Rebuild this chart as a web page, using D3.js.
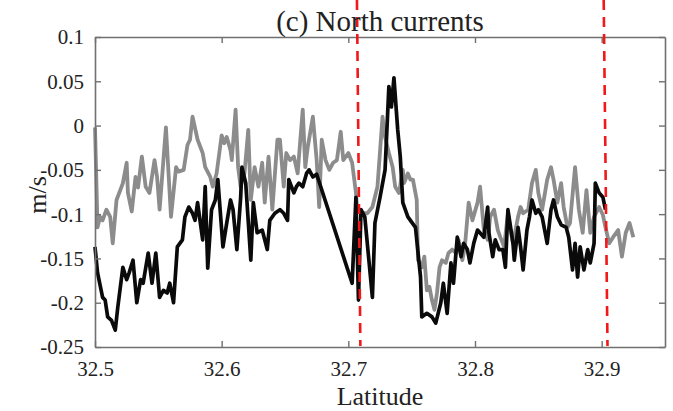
<!DOCTYPE html>
<html>
<head>
<meta charset="utf-8">
<script src="https://cdn.jsdelivr.net/npm/d3@7"></script>
<style>
  html, body { margin: 0; padding: 0; background: #fff; }
  svg { display: block; }
  text { font-family: "Liberation Serif", "DejaVu Serif", serif; fill: #222; }
</style>
</head>
<body>
<svg id="chart" width="673" height="411"></svg>
<script>
// ---- data ----
const titleText = "(c) North currents";
const xLabel = "Latitude";
const yLabel = "m/s";
const xDomain = [32.5, 32.95];
const yDomain = [-0.25, 0.1];
const xTicks = [32.5, 32.6, 32.7, 32.8, 32.9];
const yTicks = [-0.25, -0.2, -0.15, -0.1, -0.05, 0, 0.05, 0.1];

const blackLat = [32.500,32.502,32.506,32.508,32.510,32.513,32.516,32.518,32.522,32.525,32.527,32.530,32.533,32.536,32.538,32.542,32.545,32.548,32.551,32.554,32.557,32.559,32.562,32.565,32.569,32.571,32.574,32.577,32.579,32.581,32.585,32.587,32.589,32.592,32.595,32.597,32.601,32.604,32.607,32.609,32.612,32.615,32.616,32.619,32.623,32.625,32.628,32.632,32.636,32.638,32.642,32.646,32.649,32.652,32.653,32.657,32.659,32.661,32.664,32.667,32.669,32.672,32.675,32.703,32.706,32.708,32.710,32.713,32.719,32.721,32.725,32.729,32.732,32.734,32.736,32.739,32.741,32.743,32.747,32.753,32.757,32.758,32.762,32.766,32.769,32.773,32.775,32.778,32.781,32.783,32.786,32.789,32.791,32.794,32.796,32.799,32.802,32.807,32.810,32.811,32.814,32.816,32.819,32.822,32.824,32.826,32.830,32.831,32.834,32.836,32.838,32.841,32.843,32.845,32.848,32.850,32.853,32.857,32.860,32.862,32.865,32.868,32.872,32.874,32.877,32.879,32.881,32.883,32.886,32.889,32.891,32.894,32.895,32.898,32.901,32.903];
const blackVal = [-0.137,-0.166,-0.194,-0.197,-0.216,-0.220,-0.231,-0.205,-0.160,-0.174,-0.166,-0.152,-0.200,-0.174,-0.178,-0.144,-0.178,-0.144,-0.194,-0.186,-0.189,-0.178,-0.200,-0.137,-0.129,-0.103,-0.092,-0.099,-0.107,-0.087,-0.129,-0.069,-0.161,-0.095,-0.084,-0.061,-0.137,-0.110,-0.084,-0.095,-0.140,-0.081,-0.047,-0.065,-0.152,-0.087,-0.121,-0.118,-0.140,-0.107,-0.099,-0.095,-0.099,-0.107,-0.061,-0.076,-0.069,-0.065,-0.069,-0.054,-0.050,-0.058,-0.055,-0.178,-0.081,-0.197,-0.095,-0.103,-0.194,-0.110,-0.081,-0.050,0.044,0.021,0.054,-0.005,-0.035,-0.087,-0.103,-0.115,-0.171,-0.216,-0.212,-0.216,-0.223,-0.200,-0.178,-0.212,-0.155,-0.178,-0.126,-0.148,-0.133,-0.140,-0.155,-0.133,-0.118,-0.126,-0.092,-0.121,-0.148,-0.129,-0.140,-0.140,-0.160,-0.095,-0.133,-0.152,-0.115,-0.137,-0.163,-0.118,-0.103,-0.084,-0.099,-0.095,-0.103,-0.133,-0.095,-0.084,-0.103,-0.112,-0.115,-0.126,-0.163,-0.133,-0.171,-0.137,-0.163,-0.140,-0.155,-0.133,-0.065,-0.076,-0.081,-0.095];

const grayLat = [32.500,32.502,32.504,32.506,32.509,32.512,32.514,32.517,32.521,32.522,32.525,32.526,32.529,32.532,32.534,32.537,32.540,32.543,32.547,32.549,32.551,32.556,32.560,32.564,32.566,32.570,32.573,32.575,32.577,32.581,32.585,32.587,32.591,32.593,32.596,32.600,32.602,32.604,32.607,32.608,32.611,32.613,32.615,32.618,32.621,32.623,32.626,32.629,32.632,32.634,32.637,32.640,32.644,32.646,32.649,32.651,32.654,32.657,32.660,32.664,32.666,32.668,32.672,32.675,32.677,32.679,32.682,32.685,32.688,32.691,32.694,32.696,32.700,32.703,32.706,32.707,32.711,32.715,32.719,32.723,32.727,32.729,32.732,32.735,32.737,32.740,32.743,32.744,32.747,32.749,32.751,32.754,32.755,32.758,32.760,32.762,32.764,32.766,32.768,32.770,32.772,32.774,32.777,32.779,32.782,32.785,32.787,32.790,32.792,32.795,32.798,32.802,32.804,32.807,32.810,32.812,32.815,32.818,32.820,32.823,32.826,32.828,32.830,32.834,32.836,32.838,32.842,32.845,32.848,32.850,32.853,32.857,32.860,32.862,32.865,32.868,32.870,32.873,32.875,32.879,32.882,32.885,32.888,32.891,32.894,32.898,32.901,32.903,32.906,32.909,32.913,32.916,32.919,32.922,32.925];
const grayVal = [-0.002,-0.115,-0.103,-0.107,-0.095,-0.103,-0.133,-0.084,-0.069,-0.065,-0.042,-0.076,-0.097,-0.058,-0.070,-0.035,-0.069,-0.076,-0.039,-0.058,-0.095,-0.002,-0.103,-0.047,-0.052,-0.050,-0.022,-0.016,0.010,-0.016,-0.031,-0.047,-0.058,-0.069,-0.054,-0.011,-0.020,-0.013,-0.028,-0.039,0.018,-0.047,-0.069,-0.054,-0.005,-0.084,-0.047,-0.069,-0.042,-0.087,-0.035,-0.095,-0.016,-0.016,-0.069,-0.031,-0.039,-0.035,-0.054,0.018,-0.047,-0.024,0.010,-0.039,-0.092,-0.016,-0.039,-0.050,-0.042,-0.039,-0.007,-0.039,-0.031,-0.042,-0.076,-0.095,-0.099,-0.099,-0.092,-0.069,0.010,-0.013,-0.031,-0.047,-0.069,-0.076,-0.050,-0.065,-0.054,-0.061,-0.061,-0.084,-0.152,-0.160,-0.148,-0.186,-0.182,-0.197,-0.208,-0.189,-0.160,-0.152,-0.155,-0.144,-0.140,-0.144,-0.129,-0.152,-0.137,-0.087,-0.107,-0.087,-0.069,-0.118,-0.129,-0.103,-0.095,-0.118,-0.126,-0.137,-0.099,-0.118,-0.133,-0.103,-0.092,-0.099,-0.095,-0.065,-0.050,-0.076,-0.095,-0.061,-0.047,-0.061,-0.087,-0.065,-0.092,-0.115,-0.110,-0.047,-0.095,-0.121,-0.073,-0.121,-0.103,-0.092,-0.101,-0.115,-0.133,-0.126,-0.118,-0.148,-0.121,-0.110,-0.126];

// vertical red dashed markers (latitude at top and at bottom of the line)
const markerTop = [32.7068, 32.9016];
const markerBottom = [32.7095, 32.9046];

// ---- layout ----
const svg = d3.select("#chart");
const mLeft = 95, mRight = 665, mTop = 37, mBottom = 347;
const x = d3.scaleLinear().domain(xDomain).range([mLeft, mRight]);
const y = d3.scaleLinear().domain(yDomain).range([mBottom, mTop]);

const axisColor = "#707070";
const tickSize = 6;
const serif = '"Liberation Serif", "DejaVu Serif", serif';

// data lines
const line = d3.line().x(d => x(d[0])).y(d => y(d[1]));
const grayData = d3.zip(grayLat, grayVal);
const blackData = d3.zip(blackLat, blackVal);

svg.append("path").datum(grayData).attr("d", line)
  .attr("fill", "none").attr("stroke", "#8c8c8c").attr("stroke-width", 3.8)
  .attr("stroke-linejoin", "round");
svg.append("path").datum(blackData).attr("d", line)
  .attr("fill", "none").attr("stroke", "#0a0a0a").attr("stroke-width", 3.7)
  .attr("stroke-linejoin", "round");

// axes (box with inward ticks)
const fmtY = d => d === 0 ? "0" : String(d);
const axB = d3.axisBottom(x).tickValues(xTicks).tickSizeInner(-tickSize).tickSizeOuter(0).tickFormat(d3.format(".1f"));
const axT = d3.axisTop(x).tickValues(xTicks).tickSizeInner(-tickSize).tickSizeOuter(0).tickFormat("");
const axL = d3.axisLeft(y).tickValues(yTicks).tickSizeInner(-tickSize).tickSizeOuter(0).tickFormat(fmtY);
const axR = d3.axisRight(y).tickValues(yTicks).tickSizeInner(-tickSize).tickSizeOuter(0).tickFormat("");

function styleAxis(g) {
  g.attr("font-family", serif);
  g.select(".domain").attr("stroke", axisColor).attr("stroke-width", 1.6);
  g.selectAll(".tick line").attr("stroke", axisColor).attr("stroke-width", 1.4);
  g.selectAll(".tick text").attr("fill", "#222")
    .style("font-family", serif)
    .style("font-size", "21px");
}
const gB = svg.append("g").attr("transform", `translate(0,${mBottom})`).call(axB).call(styleAxis);
gB.selectAll(".tick text").attr("dy", null).attr("y", 29);
const gT = svg.append("g").attr("transform", `translate(0,${mTop})`).call(axT).call(styleAxis);
const gL = svg.append("g").attr("transform", `translate(${mLeft},0)`).call(axL).call(styleAxis);
gL.selectAll(".tick text").attr("x", -11).attr("dy", "0.33em");
const gR = svg.append("g").attr("transform", `translate(${mRight},0)`).call(axR).call(styleAxis);

// red dashed markers
svg.selectAll(".marker").data(d3.zip(markerTop, markerBottom)).enter()
  .append("line").attr("class", "marker")
  .attr("x1", d => x(d[0])).attr("y1", 0)
  .attr("x2", d => x(d[1])).attr("y2", mBottom - 1)
  .attr("stroke", "#f01818").attr("stroke-width", 2.6)
  .attr("stroke-dasharray", "10,7");

// texts
svg.append("text").attr("x", (mLeft + mRight) / 2).attr("y", 31)
  .attr("text-anchor", "middle").style("font-size", "29px").text(titleText);
svg.append("text").attr("x", (mLeft + mRight) / 2).attr("y", 405)
  .attr("text-anchor", "middle").style("font-size", "26px").text(xLabel);
svg.append("text").attr("transform", `translate(46,${(mTop + mBottom) / 2 + 3}) rotate(-90)`)
  .attr("text-anchor", "middle").style("font-size", "26px").text(yLabel);
</script>
</body>
</html>
